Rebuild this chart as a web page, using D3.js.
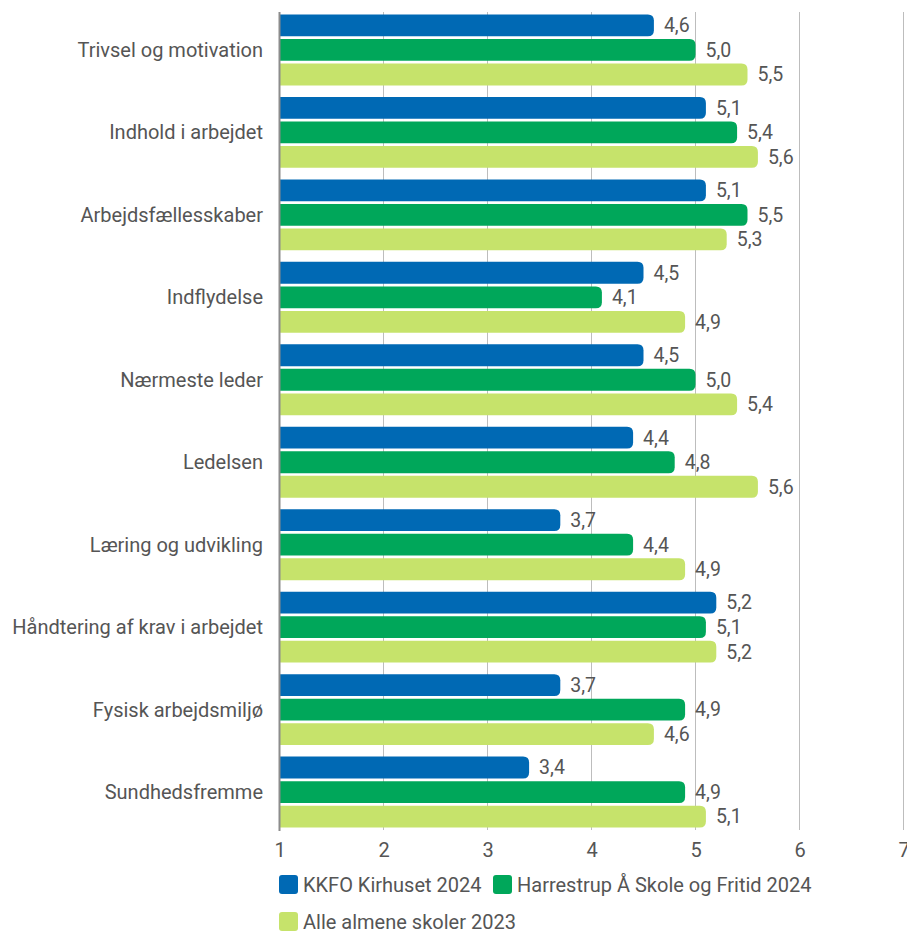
<!DOCTYPE html>
<html>
<head>
<meta charset="utf-8">
<script src="https://cdn.jsdelivr.net/npm/d3@7/dist/d3.min.js"></script>
<style>
  html, body { margin: 0; padding: 0; background: #fff; }
  svg { display: block; font-family: Roboto, "Noto Sans", sans-serif; }
</style>
</head>
<body>
<svg id="chart" width="907" height="931"></svg>
<script>
const categories = [
  "Trivsel og motivation",
  "Indhold i arbejdet",
  "Arbejdsfællesskaber",
  "Indflydelse",
  "Nærmeste leder",
  "Ledelsen",
  "Læring og udvikling",
  "Håndtering af krav i arbejdet",
  "Fysisk arbejdsmiljø",
  "Sundhedsfremme"
];
const seriesNames = ["KKFO Kirhuset 2024", "Harrestrup Å Skole og Fritid 2024", "Alle almene skoler 2023"];
const kkfo = [4.6, 5.1, 5.1, 4.5, 4.5, 4.4, 3.7, 5.2, 3.7, 3.4];
const harrestrup = [5.0, 5.4, 5.5, 4.1, 5.0, 4.8, 4.4, 5.1, 4.9, 4.9];
const alle = [5.5, 5.6, 5.3, 4.9, 5.4, 5.6, 4.9, 5.2, 4.6, 5.1];
const xTicks = [1, 2, 3, 4, 5, 6, 7];
const colors = ["#0069b4", "#00a75a", "#c6e36b"];

const seriesValues = [kkfo, harrestrup, alle];
const svg = d3.select("#chart");
const textColor = "#555555";

const x = d3.scaleLinear().domain([1, 7]).range([279.5, 903.5]);
const y = d3.scaleBand().domain(categories).range([12, 830]).paddingInner(0.14).paddingOuter(0.03);
const ySub = d3.scaleBand().domain(d3.range(3)).range([0, y.bandwidth()]).paddingInner(0.11);

// gridlines
svg.append("g").selectAll("line").data(xTicks.slice(1)).join("line")
  .attr("x1", d => x(d)).attr("x2", d => x(d))
  .attr("y1", 12).attr("y2", 830)
  .attr("stroke", "#bdbdbd").attr("stroke-width", 1);

// bars
const r = 6;
function barPath(x0, x1, y0, h) {
  const rr = Math.min(r, h / 2, x1 - x0);
  return `M${x0},${y0}H${x1 - rr}Q${x1},${y0} ${x1},${y0 + rr}V${y0 + h - rr}Q${x1},${y0 + h} ${x1 - rr},${y0 + h}H${x0}Z`;
}
const groups = svg.append("g").selectAll("g").data(categories).join("g")
  .attr("transform", d => `translate(0,${y(d)})`);

groups.each(function(cat, ci) {
  const g = d3.select(this);
  seriesValues.forEach((vals, si) => {
    const v = vals[ci];
    g.append("path")
      .attr("d", barPath(x(1), x(v), ySub(si), ySub.bandwidth()))
      .attr("fill", colors[si]);
    g.append("text")
      .attr("x", x(v) + 10)
      .attr("y", ySub(si) + ySub.bandwidth() / 2)
      .attr("dy", "0.35em")
      .attr("font-size", 19.5)
      .attr("fill", textColor)
      .text(d3.format(".1f")(v).replace(".", ","));
  });
  g.append("text")
    .attr("x", 263)
    .attr("y", ySub(1) + ySub.bandwidth() / 2)
    .attr("dy", "0.35em")
    .attr("text-anchor", "end")
    .attr("font-size", 20)
    .attr("fill", textColor)
    .text(cat);
});

// axis line at 1
svg.append("line")
  .attr("x1", x(1)).attr("x2", x(1)).attr("y1", 12).attr("y2", 831)
  .attr("stroke", "#8c8c8c").attr("stroke-width", 2);

// x tick labels
const xAxis = d3.axisBottom(x).tickValues(xTicks).tickSize(0).tickPadding(0).tickFormat(d3.format("d"));
const ax = svg.append("g").attr("transform", "translate(0,842.5)").call(xAxis);
ax.select(".domain").remove();
ax.selectAll("text").attr("font-size", 20).attr("fill", textColor).attr("font-family", "Roboto").attr("dy", "0.71em");

// legend
const legendItems = [
  { name: seriesNames[0], color: colors[0], x: 279, y: 875 },
  { name: seriesNames[1], color: colors[1], x: 493, y: 875 },
  { name: seriesNames[2], color: colors[2], x: 279, y: 912 }
];
const lg = svg.append("g").selectAll("g").data(legendItems).join("g")
  .attr("transform", d => `translate(${d.x},${d.y})`);
lg.append("rect").attr("width", 19).attr("height", 19).attr("rx", 3).attr("fill", d => d.color);
lg.append("text").attr("x", 24).attr("y", 16.5)
  .attr("font-size", 20).attr("fill", textColor).text(d => d.name);
</script>
</body>
</html>
